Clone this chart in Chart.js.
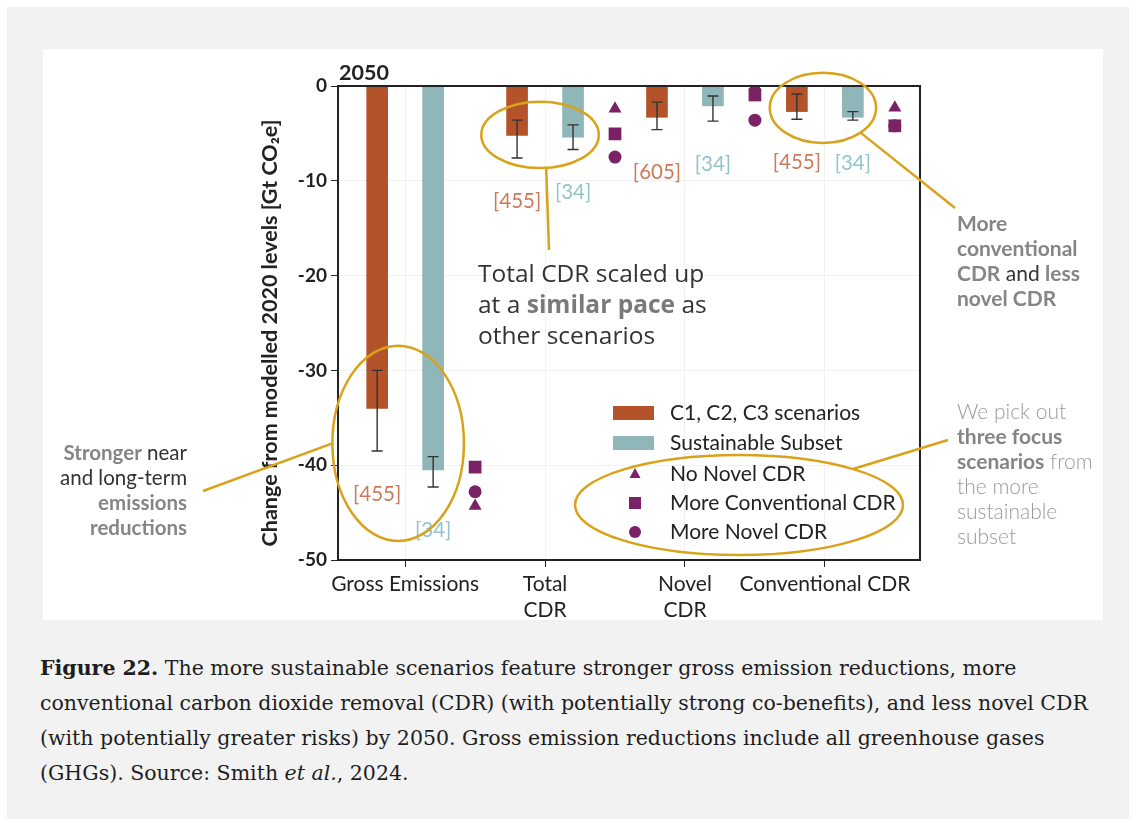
<!DOCTYPE html>
<html>
<head>
<meta charset="utf-8">
<script src="https://cdn.jsdelivr.net/npm/chart.js@4.4.0/dist/chart.umd.min.js"></script>
<style>
  html, body { margin: 0; padding: 0; }
  body { width: 1136px; height: 826px; position: relative; overflow: hidden; background: #fff; }
  #bg { position: absolute; left: 7px; top: 7px; width: 1122px; height: 812px; background: #f2f2f2; }
  #panel { position: absolute; left: 43px; top: 49px; width: 1060px; height: 571px; background: #fff; }
  .ann { position: absolute; white-space: nowrap; font-family: Lato, sans-serif; }
  .g { color: #858585; font-weight: 700; }
  #caption { position: absolute; left: 40px; top: 651px; font: 20.5px "DejaVu Serif", serif; line-height: 35px; color: #1e1e1e; white-space: nowrap; }
</style>
</head>
<body>
<div id="bg"></div>
<div id="panel"><canvas id="c"></canvas></div>

<div class="ann" style="left:10px; width:177px; top:440px; text-align:right; font-size:20.5px; line-height:25px; color:#333;">
  <span class="g">Stronger</span> near<br>and long-term<br><span class="g">emissions</span><br><span class="g">reductions</span>
</div>
<div class="ann" style="left:478px; top:257px; font-family:'Open Sans', sans-serif; font-size:24.5px; line-height:31px; color:#333;">
  Total CDR scaled up<br>at a <b style="color:#7a7a7a">similar pace</b> as<br>other scenarios
</div>
<div class="ann" style="left:957px; top:210px; font-size:21px; line-height:25px; color:#333;">
  <span class="g">More</span><br><span class="g">conventional</span><br><span class="g">CDR</span> and <span class="g">less</span><br><span class="g">novel CDR</span>
</div>
<div class="ann" style="left:957px; top:398px; font-size:21px; line-height:25px; color:#9a9a9a; font-weight:300;">
  We pick out<br><span class="g">three focus</span><br><span class="g">scenarios</span> from<br>the more<br>sustainable<br>subset
</div>

<div id="caption">
  <b>Figure 22.</b> The more sustainable scenarios feature stronger gross emission reductions, more<br>
  conventional carbon dioxide removal (CDR) (with potentially strong co-benefits), and less novel CDR<br>
  (with potentially greater risks) by 2050. Gross emission reductions include all greenhouse gases<br>
  (GHGs). Source: Smith <i>et al.</i>, 2024.
</div>

<script>
// ---- data (Gt CO2e change from modelled 2020 levels, 2050) ----
const categories = ["Gross Emissions", ["Total", "CDR"], ["Novel", "CDR"], "Conventional CDR"];

const c123Mean  = [-34.0, -5.2, -3.3, -2.7];
const c123Lo    = [-38.5, -7.6, -4.6, -3.5];
const c123Hi    = [-30.0, -3.6, -1.7, -0.85];
const c123Count = [455, 455, 605, 455];

const sustMean  = [-40.5, -5.4, -2.1, -3.3];
const sustLo    = [-42.3, -6.7, -3.7, -3.6];
const sustHi    = [-39.1, -4.1, -1.05, -2.7];
const sustCount = [34, 34, 34, 34];

const noNovel   = [-44.3, -2.4, 0, -2.3];
const moreConv  = [-40.2, -5.05, -0.95, -4.2];
const moreNovel = [-42.8, -7.5, -3.6, -4.2];

const yTicks = [0, -10, -20, -30, -40, -50];
const yTitle = "Change from modelled 2020 levels [Gt CO\u2082e]";

// ---- style ----
const ORANGE = "#b4532a";
const TEAL = "#8fb6b8";
const PURPLE = "#7b2166";
const GOLD = "#d9a21b";
const INK = "#222";

Chart.defaults.font.family = "Lato, sans-serif";

function atX(arr, off) {
    return arr.map((v, i) => ({ x: i + off, y: v }));
}

// ellipses in data units (cx, cy, rx, ry) + connector (start angle, end px in canvas)
const ellipses = [
    { cx: -0.05, cy: -37.7, rx: 0.47, ry: 10.3, a: 180, end: [160, 442] },
    { cx: 0.964, cy: -5.16, rx: 0.42, ry: 3.5, a: 84, end: [506, 201] },
    { cx: 2.986, cy: -2.3, rx: 0.38, ry: 3.7, a: 45, end: [912, 159] },
];

const extras = {
    id: "extras",
    afterDatasetsDraw(chart) {
        const ctx = chart.ctx, xs = chart.scales.x, ys = chart.scales.y, ca = chart.chartArea;
        ctx.save();

        // top + right frame
        ctx.strokeStyle = INK;
        ctx.lineWidth = 2;
        ctx.beginPath();
        ctx.moveTo(ca.left, ca.top);
        ctx.lineTo(ca.right, ca.top);
        ctx.lineTo(ca.right, ca.bottom);
        ctx.stroke();

        // "2050"
        ctx.fillStyle = INK;
        ctx.font = "bold 21.5px Lato";
        ctx.textAlign = "left";
        ctx.textBaseline = "middle";
        ctx.fillText("2050", ca.left + 1, ca.top - 13);

        // y title (placed by hand, slightly below centre like the original)
        ctx.save();
        ctx.translate(227, 284);
        ctx.rotate(-Math.PI / 2);
        ctx.textAlign = "center";
        ctx.font = "bold 21.5px Lato";
        ctx.fillText(yTitle, 0, 0);
        ctx.restore();

        // error bars and [n] labels
        const groups = [
            { off: -0.2, lo: c123Lo, hi: c123Hi, n: c123Count, color: "#cc7a5a" },
            { off: 0.2, lo: sustLo, hi: sustHi, n: sustCount, color: "#92c4cd" },
        ];
        ctx.font = "20.5px Lato";
        ctx.textAlign = "center";
        for (const g of groups) {
            for (let i = 0; i < categories.length; i++) {
                const x = xs.getPixelForValue(i + g.off);
                const yl = ys.getPixelForValue(g.lo[i]);
                const yh = ys.getPixelForValue(g.hi[i]);
                ctx.strokeStyle = "#333";
                ctx.lineWidth = 1.4;
                ctx.beginPath();
                ctx.moveTo(x, yh); ctx.lineTo(x, yl);
                ctx.moveTo(x - 5.5, yh); ctx.lineTo(x + 5.5, yh);
                ctx.moveTo(x - 5.5, yl); ctx.lineTo(x + 5.5, yl);
                ctx.stroke();
                ctx.fillStyle = g.color;
                ctx.fillText("[" + g.n[i] + "]", x, yl + 43);
            }
        }

        // legend
        const lx = ca.left + 275, tx = ca.left + 332, mx = ca.left + 297;
        const rows = [ca.top + 327, ca.top + 357, ca.top + 388, ca.top + 417, ca.top + 446];
        ctx.textAlign = "left";
        ctx.fillStyle = ORANGE;
        ctx.fillRect(lx, rows[0] - 7, 41, 14);
        ctx.fillStyle = TEAL;
        ctx.fillRect(lx, rows[1] - 7, 41, 14);
        ctx.fillStyle = PURPLE;
        ctx.beginPath();
        ctx.moveTo(mx, rows[2] - 6); ctx.lineTo(mx + 5.5, rows[2] + 4); ctx.lineTo(mx - 5.5, rows[2] + 4);
        ctx.closePath(); ctx.fill();
        ctx.fillRect(mx - 6, rows[3] - 6, 12, 12);
        ctx.beginPath(); ctx.arc(mx, rows[4], 6, 0, Math.PI * 2); ctx.fill();
        ctx.fillStyle = INK;
        ctx.font = "21px Lato";
        const names = ["C1, C2, C3 scenarios", "Sustainable Subset", "No Novel CDR", "More Conventional CDR", "More Novel CDR"];
        names.forEach((t, k) => ctx.fillText(t, tx, rows[k]));

        // annotation ellipses + connectors
        ctx.strokeStyle = GOLD;
        ctx.lineWidth = 2.5;
        const pxPerX = Math.abs(xs.getPixelForValue(1) - xs.getPixelForValue(0));
        const pxPerY = Math.abs(ys.getPixelForValue(0) - ys.getPixelForValue(1));
        const all = ellipses.map(e => ({
            cx: xs.getPixelForValue(e.cx), cy: ys.getPixelForValue(e.cy),
            rx: e.rx * pxPerX, ry: e.ry * pxPerY, a: e.a, end: e.end
        }));
        all.push({ cx: ca.left + 401, cy: ca.top + 419, rx: 164, ry: 50, a: -46, end: [905, 391] });
        for (const e of all) {
            ctx.beginPath();
            ctx.ellipse(e.cx, e.cy, e.rx, e.ry, 0, 0, Math.PI * 2);
            ctx.stroke();
            const t = e.a * Math.PI / 180;
            ctx.beginPath();
            ctx.moveTo(e.cx + e.rx * Math.cos(t), e.cy + e.ry * Math.sin(t));
            ctx.lineTo(e.end[0], e.end[1]);
            ctx.stroke();
        }
        ctx.restore();
    }
};

new Chart(document.getElementById("c"), {
    type: "bar",
    data: {
        datasets: [
            { type: "scatter", label: "More Conventional CDR", data: atX(moreConv, 0.5), pointStyle: "rect", pointRadius: 9, backgroundColor: PURPLE, borderWidth: 0, order: 0, clip: 0 },
            { type: "scatter", label: "No Novel CDR", data: atX(noNovel, 0.5), pointStyle: "triangle", pointRadius: 7.5, backgroundColor: PURPLE, borderWidth: 0, order: 1, clip: 0 },
            { type: "scatter", label: "More Novel CDR", data: atX(moreNovel, 0.5), pointStyle: "circle", pointRadius: 6.5, backgroundColor: PURPLE, borderWidth: 0, order: 2, clip: 0 },
            { label: "C1, C2, C3 scenarios", data: atX(c123Mean, -0.2), backgroundColor: ORANGE, barThickness: 21, grouped: false, order: 3 },
            { label: "Sustainable Subset", data: atX(sustMean, 0.2), backgroundColor: TEAL, barThickness: 21, grouped: false, order: 3 },
        ]
    },
    options: {
        responsive: true,
        maintainAspectRatio: false,
        animation: false,
        layout: { padding: { left: 212, right: 183, top: 37, bottom: 0 } },
        plugins: { legend: { display: false }, tooltip: { enabled: false } },
        scales: {
            x: {
                type: "linear",
                min: -0.48,
                max: 3.68,
                offset: false,
                afterBuildTicks: s => { s.ticks = categories.map((_, i) => ({ value: i })); },
                afterFit: s => { s.height = 60; },
                ticks: {
                    autoSkip: false,
                    maxRotation: 0,
                    padding: 5,
                    color: INK,
                    font: { size: 21 },
                    callback: v => categories[v]
                },
                grid: { offset: false, color: "#f1f1f1", tickColor: INK, tickLength: 7 },
                border: { color: INK, width: 2 }
            },
            y: {
                min: -50,
                max: 0,
                afterBuildTicks: s => { s.ticks = yTicks.map(v => ({ value: v })); },
                afterFit: s => { s.width = 83; },
                ticks: { color: INK, font: { size: 19, weight: "bold" }, padding: 4 },
                grid: { color: "#f1f1f1", tickColor: INK, tickLength: 7 },
                border: { color: INK, width: 2 },
                title: { display: false }
            }
        }
    },
    plugins: [extras]
});
</script>
</body>
</html>
